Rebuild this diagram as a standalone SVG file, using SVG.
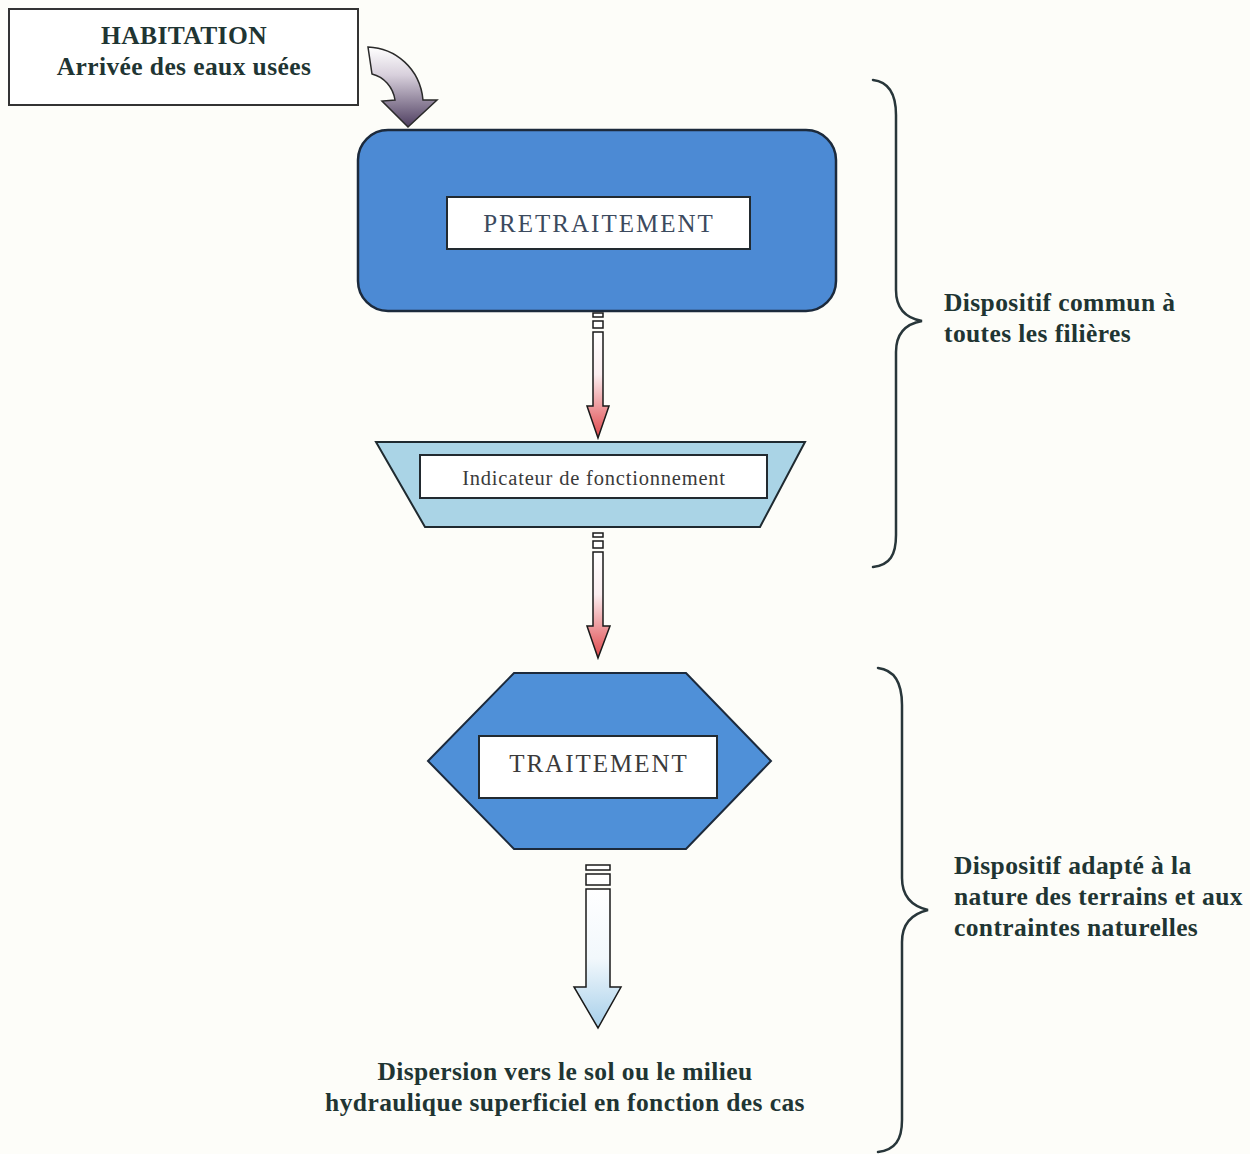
<svg xmlns="http://www.w3.org/2000/svg" width="1250" height="1154" viewBox="0 0 1250 1154">
<defs>
<style>
.bold{font-family:"Liberation Serif","Times New Roman",serif;font-weight:bold;font-size:25.5px;letter-spacing:0.4px;fill:#1f3533;}
.lbl{font-family:"Liberation Serif","Times New Roman",serif;font-size:25px;letter-spacing:2px;text-anchor:middle;}
.frame{fill:#ffffff;stroke:#222a30;stroke-width:2;}
.brace{fill:none;stroke:#28363a;stroke-width:2.5;stroke-linecap:round;}
.arr{stroke:#1a1a1a;stroke-width:1.5;}
</style>
<linearGradient id="gPurple" x1="0" y1="0" x2="0" y2="1">
<stop offset="0" stop-color="#ffffff"/>
<stop offset="0.35" stop-color="#d8d0dc"/>
<stop offset="1" stop-color="#4e3e60"/>
</linearGradient>
<linearGradient id="gRed" x1="0" y1="0" x2="0" y2="1">
<stop offset="0" stop-color="#ffffff"/>
<stop offset="0.4" stop-color="#fbeef0"/>
<stop offset="1" stop-color="#e0464a"/>
</linearGradient>
<linearGradient id="gBlue" x1="0" y1="0" x2="0" y2="1">
<stop offset="0" stop-color="#ffffff"/>
<stop offset="0.5" stop-color="#f2f8fc"/>
<stop offset="1" stop-color="#a6cfea"/>
</linearGradient>
</defs>
<rect x="0" y="0" width="1250" height="1154" fill="#fdfdf9"/>

<g id="habitation">
<rect x="9" y="9" width="349" height="96" fill="#ffffff" stroke="#333333" stroke-width="2"/>
<text class="bold" x="184" y="44" text-anchor="middle">HABITATION</text>
<text class="bold" x="184" y="75" text-anchor="middle">Arrivée des eaux usées</text>
</g>

<g id="pretraitement">
<rect x="358" y="130" width="478" height="181" rx="30" ry="30" fill="#4c8ad4" stroke="#1c2a3c" stroke-width="2.5"/>
<rect class="frame" x="447" y="197" width="303" height="52"/>
<text class="lbl" x="599" y="232" fill="#3c4a5e">PRETRAITEMENT</text>
</g>

<g id="indicateur">
<polygon points="376,442 805,442 760,527 425,527" fill="#aad4e6" stroke="#1f2a30" stroke-width="2"/>
<rect class="frame" x="420" y="455" width="347" height="43"/>
<text x="594" y="485" text-anchor="middle" font-family="'Liberation Serif','Times New Roman',serif" font-size="20.5px" letter-spacing="0.8" fill="#3a3a3a">Indicateur de fonctionnement</text>
</g>

<g id="traitement">
<polygon points="428,761 514,673 686,673 771,761 686,849 514,849" fill="#4f90d8" stroke="#1c2a3c" stroke-width="2"/>
<rect class="frame" x="479" y="736" width="238" height="62"/>
<text class="lbl" x="599" y="772" fill="#3a3a3a">TRAITEMENT</text>
</g>

<g id="dispersion">
<text class="bold" x="565" y="1080" text-anchor="middle">Dispersion vers le sol ou le milieu</text>
<text class="bold" x="565" y="1111" text-anchor="middle">hydraulique superficiel en fonction des cas</text>
</g>

<g id="note-commun">
<text class="bold" x="944" y="311">Dispositif commun à</text>
<text class="bold" x="944" y="342">toutes les filières</text>
</g>

<g id="note-adapte">
<text class="bold" x="954" y="874">Dispositif adapté à la</text>
<text class="bold" x="954" y="905">nature des terrains et aux</text>
<text class="bold" x="954" y="936">contraintes naturelles</text>
</g>

<g id="connectors">
<path d="M368,47 C395,48 420,68 423,100 L437,100 L408,127 L382,101 L395,100 C393,87 384,77 372,74 Z" fill="url(#gPurple)" stroke="#2a2a2a" stroke-width="1.5"/>

<rect class="arr" x="593" y="313" width="10" height="4" fill="#ffffff"/>
<rect class="arr" x="593" y="321" width="10" height="7" fill="#ffffff"/>
<path class="arr" d="M593,332 L603,332 L603,406 L609,406 L598,438 L587,406 L593,406 Z" fill="url(#gRed)"/>

<rect class="arr" x="593" y="533" width="10" height="4" fill="#ffffff"/>
<rect class="arr" x="593" y="541" width="10" height="7" fill="#ffffff"/>
<path class="arr" d="M593,552 L603,552 L603,626 L610,626 L598,658 L587,626 L593,626 Z" fill="url(#gRed)"/>

<rect class="arr" x="586" y="865" width="24" height="5" fill="#ffffff"/>
<rect class="arr" x="586" y="874" width="24" height="11" fill="#ffffff"/>
<path class="arr" d="M586,889 L610,889 L610,987 L621,987 L598,1028 L574,987 L586,987 Z" fill="url(#gBlue)"/>

<path class="brace" d="M873,80 C890,82 896,95 896,115 L896,290 C896,308 905,318 922,321 C905,324 896,334 896,352 L896,535 C896,555 890,565 873,567"/>
<path class="brace" d="M878,668 C895,670 902,683 902,705 L902,878 C902,896 911,906 928,910 C911,914 902,924 902,942 L902,1120 C902,1140 895,1150 878,1152"/>
</g>
</svg>
